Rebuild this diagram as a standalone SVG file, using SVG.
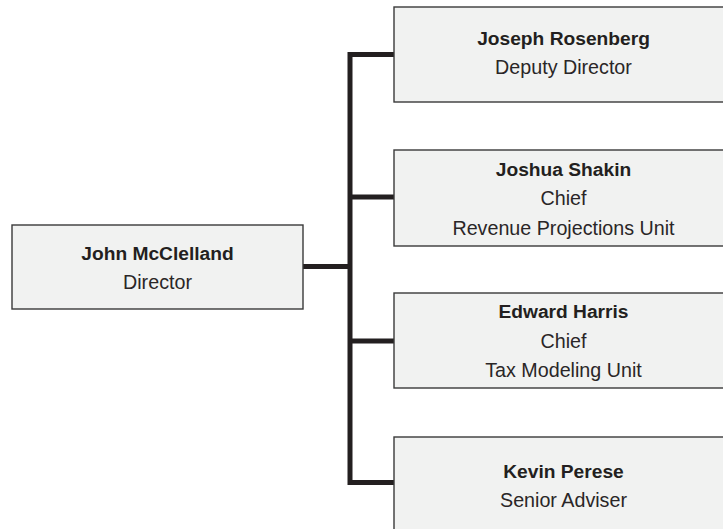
<svg xmlns="http://www.w3.org/2000/svg" width="723" height="529" viewBox="0 0 723 529">
  <style>
    .box { fill: #f1f2f1; stroke: #3a3a3a; stroke-width: 1.4; }
    .link { fill: none; stroke: #231f20; stroke-width: 5; stroke-linejoin: miter; stroke-linecap: butt; }
    text { font-family: "Liberation Sans", Arial, sans-serif; font-size: 19.7px; fill: #2a2627; text-anchor: middle; }
    .name { font-weight: bold; font-size: 19.2px; fill: #231f20; }
  </style>
  <rect width="723" height="529" fill="#ffffff"/>

  <!-- connectors -->
  <g id="connectors">
    <path class="link" d="M303 266.5 H350"/>
    <path class="link" d="M394 54.5 H350 V482.5 H394"/>
    <path class="link" d="M350 197 H394"/>
    <path class="link" d="M350 341 H394"/>
  </g>

  <g id="director">
    <rect class="box" x="12" y="225" width="291" height="84"/>
    <text class="name" x="157.5" y="260">John McClelland</text>
    <text x="157.5" y="288.5">Director</text>
  </g>

  <g id="deputy-director">
    <rect class="box" x="394" y="7" width="340" height="95"/>
    <text class="name" x="563.5" y="45">Joseph Rosenberg</text>
    <text x="563.5" y="74">Deputy Director</text>
  </g>

  <g id="revenue-projections">
    <rect class="box" x="394" y="150" width="340" height="96"/>
    <text class="name" x="563.5" y="175.5">Joshua Shakin</text>
    <text x="563.5" y="205">Chief</text>
    <text x="563.5" y="234.5">Revenue Projections Unit</text>
  </g>

  <g id="tax-modeling">
    <rect class="box" x="394" y="293" width="340" height="95"/>
    <text class="name" x="563.5" y="318">Edward Harris</text>
    <text x="563.5" y="347.5">Chief</text>
    <text x="563.5" y="377">Tax Modeling Unit</text>
  </g>

  <g id="senior-adviser">
    <rect class="box" x="394" y="437" width="340" height="100"/>
    <text class="name" x="563.5" y="477.5">Kevin Perese</text>
    <text x="563.5" y="507">Senior Adviser</text>
  </g>
</svg>
